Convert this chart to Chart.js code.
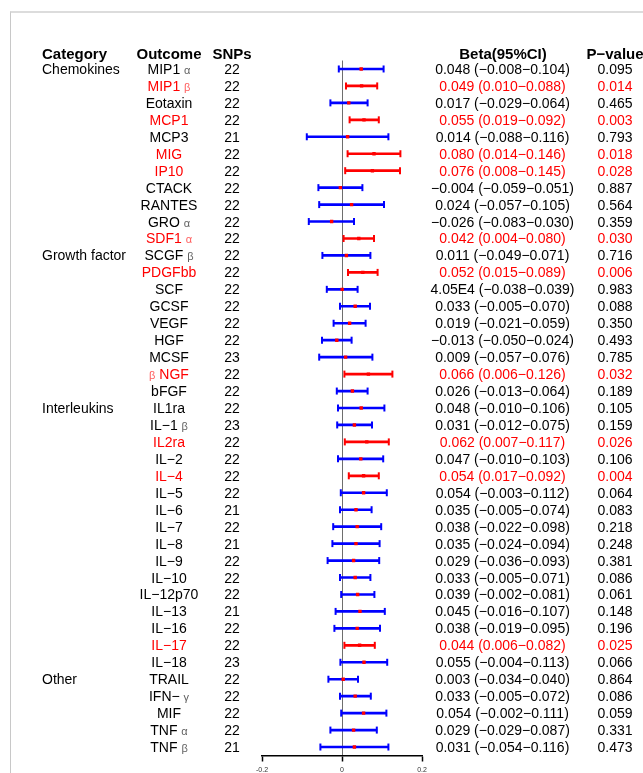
<!DOCTYPE html>
<html>
<head>
<meta charset="utf-8">
<script src="https://cdn.jsdelivr.net/npm/chart.js@4.4.1/dist/chart.umd.min.js"></script>
<style>
  html, body { margin: 0; padding: 0; background: #fff; }
  #wrap { position: relative; width: 643px; height: 773px; overflow: hidden; background: #fff; }
  #frame { position: absolute; left: 10px; top: 11px; right: -5px; bottom: -5px; border-top: 2px solid #dcdcdc; border-left: 1px solid #c8c8c8; }
  canvas { position: absolute; left: 0; top: 0; }
</style>
</head>
<body>
<div id="wrap"><div id="frame"></div><canvas id="forest" width="643" height="773"></canvas></div>
<script>
const outcomes = ['MIP1 α', 'MIP1 β', 'Eotaxin', 'MCP1', 'MCP3', 'MIG', 'IP10', 'CTACK', 'RANTES', 'GRO α', 'SDF1 α',
  'SCGF β', 'PDGFbb', 'SCF', 'GCSF', 'VEGF', 'HGF', 'MCSF', 'β NGF', 'bFGF',
  'IL1ra', 'IL−1 β', 'IL2ra', 'IL−2', 'IL−4', 'IL−5', 'IL−6', 'IL−7', 'IL−8', 'IL−9', 'IL−10', 'IL−12p70', 'IL−13', 'IL−16', 'IL−17', 'IL−18',
  'TRAIL', 'IFN− γ', 'MIF', 'TNF α', 'TNF β']
const categoryNames = ['Chemokines', 'Growth factor', 'Interleukins', 'Other']
const categoryRows = [0, 11, 20, 36]
const snps = [22, 22, 22, 22, 21, 22, 22, 22, 22, 22, 22,
  22, 22, 22, 22, 22, 22, 23, 22, 22,
  22, 23, 22, 22, 22, 22, 21, 22, 21, 22, 22, 22, 21, 22, 22, 23,
  22, 22, 22, 22, 21]
const beta = [0.048, 0.049, 0.017, 0.055, 0.014, 0.080, 0.076, -0.004, 0.024, -0.026, 0.042,
  0.011, 0.052, 0.000405, 0.033, 0.019, -0.013, 0.009, 0.066, 0.026,
  0.048, 0.031, 0.062, 0.047, 0.054, 0.054, 0.035, 0.038, 0.035, 0.029, 0.033, 0.039, 0.045, 0.038, 0.044, 0.055,
  0.003, 0.033, 0.054, 0.029, 0.031]
const lower = [-0.008, 0.010, -0.029, 0.019, -0.088, 0.014, 0.008, -0.059, -0.057, -0.083, 0.004,
  -0.049, 0.015, -0.038, -0.005, -0.021, -0.050, -0.057, 0.006, -0.013,
  -0.010, -0.012, 0.007, -0.010, 0.017, -0.003, -0.005, -0.022, -0.024, -0.036, -0.005, -0.002, -0.016, -0.019, 0.006, -0.004,
  -0.034, -0.005, -0.002, -0.029, -0.054]
const upper = [0.104, 0.088, 0.064, 0.092, 0.116, 0.146, 0.145, 0.051, 0.105, 0.030, 0.080,
  0.071, 0.089, 0.039, 0.070, 0.059, 0.024, 0.076, 0.126, 0.064,
  0.106, 0.075, 0.117, 0.103, 0.092, 0.112, 0.074, 0.098, 0.094, 0.093, 0.071, 0.081, 0.107, 0.095, 0.082, 0.113,
  0.040, 0.072, 0.111, 0.087, 0.116]
const pval = [0.095, 0.014, 0.465, 0.003, 0.793, 0.018, 0.028, 0.887, 0.564, 0.359, 0.030,
  0.716, 0.006, 0.983, 0.088, 0.350, 0.493, 0.785, 0.032, 0.189,
  0.105, 0.159, 0.026, 0.106, 0.004, 0.064, 0.083, 0.218, 0.248, 0.381, 0.086, 0.061, 0.148, 0.196, 0.025, 0.066,
  0.864, 0.086, 0.059, 0.331, 0.473]
const xTicks = [-0.2, 0, 0.2]

const RED = '#ff0000'
const BLUE = '#0000ff'
const FONT = "'Liberation Sans', Arial, sans-serif"

const rowColor = i => pval[i] < 0.05 ? RED : BLUE
const textColor = i => pval[i] < 0.05 ? RED : '#000'

function fmt(v) {
  if (v !== 0 && Math.abs(v) < 0.001) return v.toExponential(2).replace('e-', 'E')
  return (v < 0 ? '−' : '') + Math.abs(v).toFixed(3)
}

// draws text, greek letters a bit smaller and lighter like the R output
function drawLabel(ctx, str, x, y, align, size, color, bold) {
  const parts = str.split(/([\u0370-\u03ff]+)/).filter(Boolean)
  const fonts = parts.map(p => /[\u0370-\u03ff]/.test(p) ? `${size - 3}px ${FONT}` : `${bold ? 'bold ' : ''}${size}px ${FONT}`)
  let total = 0
  const widths = parts.map((p, k) => { ctx.font = fonts[k]; const w = ctx.measureText(p).width; total += w; return w })
  let cx = align === 'center' ? x - total / 2 : align === 'right' ? x - total : x
  ctx.textAlign = 'left'
  ctx.textBaseline = 'alphabetic'
  ctx.fillStyle = color
  parts.forEach((p, k) => {
    ctx.font = fonts[k]
    ctx.globalAlpha = /[\u0370-\u03ff]/.test(p) ? 0.65 : 1
    ctx.fillText(p, cx, y)
    cx += widths[k]
  })
  ctx.globalAlpha = 1
}

const forestPlugin = {
  id: 'forestTable',
  afterDatasetsDraw(chart) {
    const { ctx, scales: { x, y } } = chart
    ctx.save()
    ctx.lineWidth = 2
    outcomes.forEach((_, i) => {
      const py = y.getPixelForValue(i)
      ctx.strokeStyle = rowColor(i)
      for (const v of [lower[i], upper[i]]) {
        const px = x.getPixelForValue(v)
        ctx.beginPath()
        ctx.moveTo(px, py - 3.5)
        ctx.lineTo(px, py + 3.5)
        ctx.stroke()
      }
    })
    ctx.restore()
  },
  afterDraw(chart) {
    const { ctx, scales: { y } } = chart
    const step = y.getPixelForValue(1) - y.getPixelForValue(0)
    const headY = y.getPixelForValue(0) - step + 6.5
    ctx.save()
    drawLabel(ctx, 'Category', 42, headY, 'left', 15, '#000', true)
    drawLabel(ctx, 'Outcome', 169, headY, 'center', 15, '#000', true)
    drawLabel(ctx, 'SNPs', 232, headY, 'center', 15, '#000', true)
    drawLabel(ctx, 'Beta(95%CI)', 503, headY, 'center', 15, '#000', true)
    drawLabel(ctx, 'P−value', 615, headY, 'center', 15, '#000', true)
    categoryNames.forEach((name, k) => {
      drawLabel(ctx, name, 42, y.getPixelForValue(categoryRows[k]) + 5, 'left', 14, '#000')
    })
    outcomes.forEach((name, i) => {
      const by = y.getPixelForValue(i) + 5
      drawLabel(ctx, name, 169, by, 'center', 14, textColor(i))
      drawLabel(ctx, String(snps[i]), 232, by, 'center', 14, '#000')
      drawLabel(ctx, `${fmt(beta[i])} (${fmt(lower[i])}−${fmt(upper[i])})`, 502.5, by, 'center', 14, textColor(i))
      drawLabel(ctx, pval[i].toFixed(3), 615, by, 'center', 14, textColor(i))
    })
    ctx.restore()
  },
}

new Chart(document.getElementById('forest'), {
  type: 'bar',
  data: {
    labels: outcomes,
    datasets: [
      {
        type: 'scatter',
        data: beta.map((b, i) => ({ x: b, y: outcomes[i] })),
        pointStyle: 'rect',
        pointRadius: 2.4,
        backgroundColor: RED,
        borderWidth: 0,
        order: 1,
      },
      {
        data: lower.map((l, i) => [l, upper[i]]),
        backgroundColor: outcomes.map((_, i) => rowColor(i)),
        barThickness: 2,
        borderSkipped: false,
        order: 2,
      },
    ],
  },
  plugins: [forestPlugin],
  options: {
    indexAxis: 'y',
    responsive: false,
    animation: false,
    layout: { padding: { left: 262, right: 221, top: 60.5, bottom: 0 } },
    plugins: { legend: { display: false }, tooltip: { enabled: false } },
    scales: {
      x: {
        type: 'linear',
        min: -0.2,
        max: 0.2,
        afterBuildTicks: scale => { scale.ticks = xTicks.map(v => ({ value: v })) },
        afterFit: scale => { scale.height = 17.5 },
        border: { display: true, color: '#000', width: 1.5 },
        grid: {
          drawOnChartArea: true,
          color: c => (c.tick && c.tick.value === 0) ? '#6e6e6e' : 'rgba(0,0,0,0)',
          lineWidth: 1,
          tickColor: '#000',
          tickLength: 6,
          tickWidth: 1.5,
        },
        ticks: {
          font: { size: 7, family: FONT },
          color: '#333',
          padding: 4,
          maxRotation: 0,
          callback: v => v === 0 ? '0' : String(v),
        },
      },
      y: {
        type: 'category',
        display: false,
        offset: true,
        grid: { display: false },
      },
    },
  },
})
</script>
</body>
</html>
